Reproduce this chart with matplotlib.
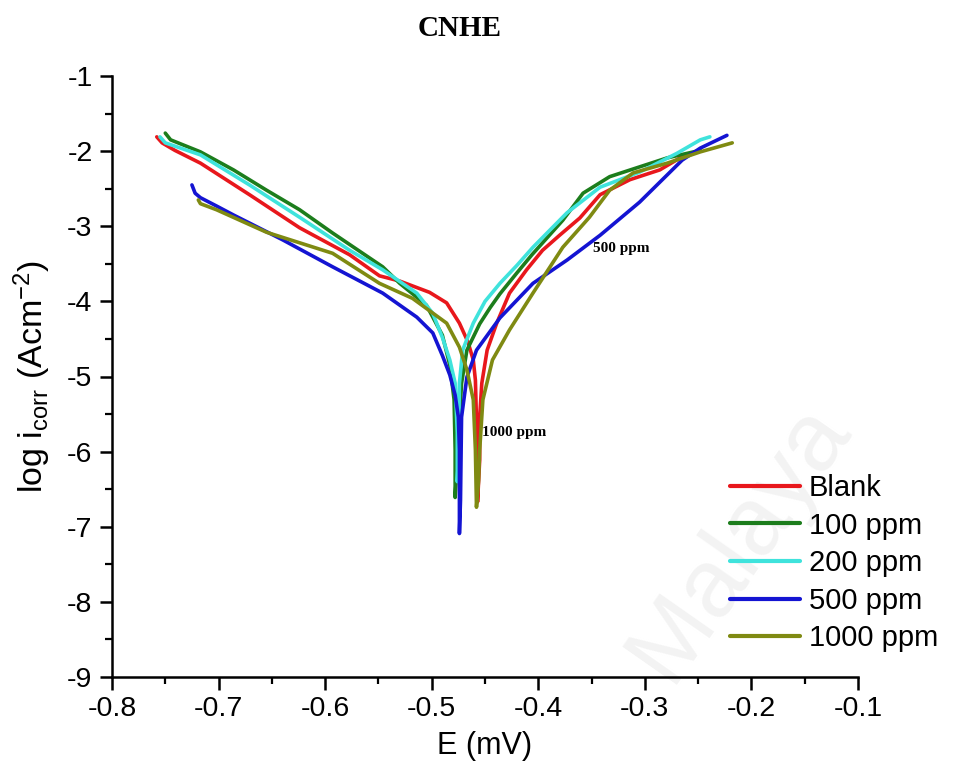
import matplotlib
matplotlib.use("Agg")
import matplotlib.pyplot as plt
from matplotlib.ticker import MultipleLocator

plt.rcParams['font.family'] = ['Liberation Sans', 'DejaVu Sans']
plt.rcParams['mathtext.default'] = 'regular'

# Potentiodynamic polarisation curves: potential E (V) vs log current density
blank_E = [-0.758, -0.753, -0.741, -0.717, -0.671, -0.624, -0.577, -0.549, -0.530, -0.502,
           -0.486, -0.474, -0.466, -0.461, -0.459, -0.458, -0.457, -0.457,
           -0.455, -0.455, -0.453, -0.448, -0.439, -0.427, -0.411, -0.396, -0.380,
           -0.361, -0.342, -0.314, -0.286, -0.267, -0.248]
blank_L = [-1.81, -1.89, -1.99, -2.16, -2.58, -3.02, -3.38, -3.66, -3.73, -3.88,
           -4.02, -4.29, -4.54, -4.78, -5.05, -5.58, -6.11, -6.67,
           -6.11, -5.54, -5.09, -4.65, -4.29, -3.89, -3.58, -3.32, -3.12,
           -2.89, -2.58, -2.38, -2.25, -2.09, -1.99]

p100_E = [-0.750, -0.745, -0.717, -0.686, -0.655, -0.624, -0.593, -0.546, -0.530, -0.505,
          -0.490, -0.483, -0.479, -0.478, -0.478,
          -0.476, -0.474, -0.472, -0.467, -0.455, -0.445, -0.436, -0.420, -0.406, -0.377,
          -0.358, -0.333, -0.305, -0.279, -0.248]
p100_L = [-1.76, -1.85, -2.01, -2.25, -2.52, -2.78, -3.09, -3.54, -3.76, -4.05,
          -4.45, -4.85, -5.31, -5.98, -6.61,
          -6.11, -5.58, -5.09, -4.65, -4.30, -4.08, -3.90, -3.62, -3.38, -2.92,
          -2.56, -2.34, -2.21, -2.09, -1.99]

p200_E = [-0.755, -0.750, -0.717, -0.671, -0.624, -0.577, -0.546, -0.514, -0.499, -0.490,
          -0.483, -0.478, -0.476, -0.476,
          -0.475, -0.474, -0.471, -0.461, -0.450, -0.436, -0.420, -0.405, -0.373, -0.342,
          -0.305, -0.270, -0.248, -0.239]
p200_L = [-1.81, -1.89, -2.05, -2.45, -2.88, -3.32, -3.58, -3.89, -4.16, -4.48,
          -4.78, -5.09, -5.75, -6.40,
          -6.10, -5.09, -4.65, -4.29, -4.00, -3.76, -3.52, -3.28, -2.82, -2.48,
          -2.28, -2.03, -1.85, -1.81]

p500_E = [-0.725, -0.722, -0.717, -0.702, -0.686, -0.640, -0.593, -0.546, -0.514, -0.499,
          -0.490, -0.483, -0.478, -0.475, -0.474, -0.474,
          -0.473, -0.472, -0.467, -0.458, -0.436, -0.405, -0.373, -0.342, -0.305,
          -0.265, -0.248, -0.223]
p500_L = [-2.45, -2.56, -2.62, -2.73, -2.85, -3.18, -3.54, -3.89, -4.21, -4.42,
          -4.72, -4.98, -5.25, -5.54, -5.98, -7.09,
          -6.65, -5.54, -5.01, -4.65, -4.22, -3.76, -3.45, -3.12, -2.68,
          -2.12, -1.96, -1.79]

p1000_E = [-0.719, -0.717, -0.702, -0.655, -0.593, -0.549, -0.518, -0.486, -0.474, -0.467,
           -0.461, -0.459, -0.458,
           -0.456, -0.455, -0.452, -0.443, -0.427, -0.405, -0.377, -0.352, -0.333,
           -0.311, -0.279, -0.248, -0.218]
p1000_L = [-2.65, -2.70, -2.78, -3.08, -3.36, -3.76, -3.96, -4.29, -4.61, -4.91,
           -5.31, -5.98, -6.74,
           -6.38, -5.98, -5.31, -4.78, -4.38, -3.89, -3.28, -2.88, -2.52,
           -2.29, -2.16, -2.01, -1.89]

series = [
    ("Blank", blank_E, blank_L, "#e8171c"),
    ("100 ppm", p100_E, p100_L, "#1c7d1c"),
    ("200 ppm", p200_E, p200_L, "#3fe3dc"),
    ("500 ppm", p500_E, p500_L, "#1414d2"),
    ("1000 ppm", p1000_E, p1000_L, "#7f8a12"),
]

x_ticks = [-0.8, -0.7, -0.6, -0.5, -0.4, -0.3, -0.2, -0.1]
y_ticks = [-1, -2, -3, -4, -5, -6, -7, -8, -9]

fig = plt.figure(figsize=(9.54, 7.74), dpi=100)
ax = fig.add_axes([112 / 954, 1 - 677 / 774, (858 - 112) / 954, (677 - 76) / 774])
ax.patch.set_alpha(0)

# faint background watermark
fig.text(0.775, 0.30, "Malaya", fontsize=70, rotation=55, color="#f3f3f3",
         ha="center", va="center", zorder=-1)

for name, e, l, c in series:
    ax.plot(e, l, color=c, lw=2.6, label=name, solid_capstyle="round",
            solid_joinstyle="round")

ax.set_xlim(-0.8, -0.1)
ax.set_ylim(-9, -1)
ax.set_xticks(x_ticks)
ax.set_yticks(y_ticks)
ax.set_xticklabels([f"{t:g}" for t in x_ticks])
ax.set_yticklabels([f"{t:g}" for t in y_ticks])
ax.xaxis.set_minor_locator(MultipleLocator(0.05))
ax.yaxis.set_minor_locator(MultipleLocator(0.5))

for side in ("top", "right"):
    ax.spines[side].set_visible(False)
for side in ("left", "bottom"):
    ax.spines[side].set_linewidth(1.8)

ax.tick_params(which="major", direction="out", length=9, width=1.8, labelsize=20.5, pad=5)
ax.tick_params(which="minor", direction="out", length=5, width=1.6)

ax.set_xlabel("E (mV)", fontsize=22, labelpad=6)
ax.set_ylabel(r"log i$_{corr}$ (Acm$^{-2}$)", fontsize=24.5, labelpad=10)

fig.text(0.482, 0.963, "CNHE", fontsize=21, fontweight="bold", family="Liberation Serif",
         ha="center", va="center")

ax.text(-0.349, -3.29, "500 ppm", fontsize=11, fontweight="bold", family="Liberation Serif",
        ha="left", va="center")
ax.text(-0.453, -5.74, "1000 ppm", fontsize=11, fontweight="bold", family="Liberation Serif",
        ha="left", va="center")

leg = ax.legend(loc="upper left", bbox_to_anchor=(730 / 954, 1 - 474 / 774),
                bbox_transform=fig.transFigure, frameon=False, fontsize=21,
                handlelength=2.4, handletextpad=0.3, labelspacing=0.33,
                borderpad=0, borderaxespad=0)
for h in leg.get_lines():
    h.set_linewidth(3)

fig.savefig("out.png", dpi=100)
